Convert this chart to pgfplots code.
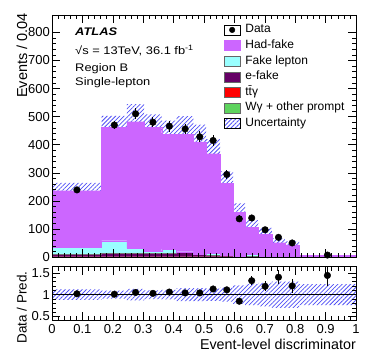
\documentclass[border=0pt]{standalone}
\usepackage{fontspec}
\setmainfont{Liberation Sans}
\usepackage{pgfplots}
\usepackage{pgfplotstable}
\pgfplotsset{compat=1.18}
\usepgfplotslibrary{fillbetween}
\usetikzlibrary{patterns.meta}

\definecolor{hadfake}{RGB}{204,102,255}
\definecolor{fakelep}{RGB}{153,255,255}
\definecolor{efake}{RGB}{102,0,102}
\definecolor{ttg}{RGB}{255,0,0}
\definecolor{wg}{RGB}{94,211,94}
\definecolor{hatch}{RGB}{80,80,245}

% stacked components (left bin edge, last row closes the last bin)
\pgfplotstableread{
x     g    r    e    c    h
0.000 0.5  0.5  10   23   202
0.163 0.5  0.5  14   43   403
0.246 0.5  0.5  13   18   450
0.303 0.5  0.5  13   6    442
0.361 0.5  0.5  12   16   409
0.410 0.5  0.5  15   3    417
0.465 0.5  0.5  8    2    399
0.507 0.5  0.5  7    5    355
0.553 0.5  0.5  5    2    255
0.596 0.5  0.5  2    1    154
0.635 0.5  0.5  3    5.5  96
0.679 1.5  0.5  1    0.5  78
0.723 0.5  0.5  1    1    48
0.766 0.5  0.5  0.5  0.5  41
0.813 0.5  0.5  0.3  0.2  3.5
1.000 0.5  0.5  0.3  0.2  3.5
}\stacktab

% uncertainty band
\pgfplotstableread{
x     lo     hi     rlo   rhi
0.000 207.7  264.3  0.88  1.12
0.163 419.5  502.5  0.91  1.09
0.246 419.3  544.7  0.87  1.13
0.303 415.8  508.2  0.90  1.10
0.361 389.8  486.2  0.89  1.11
0.410 370.6  501.4  0.85  1.15
0.465 348.5  471.5  0.85  1.15
0.507 316.5  419.5  0.86  1.14
0.553 220.9  305.1  0.84  1.16
0.596 124.8  191.2  0.79  1.21
0.635 80.6   131.4  0.76  1.24
0.679 59.9   104.1  0.73  1.27
0.723 35.7   66.3   0.70  1.30
0.766 30.1   55.9   0.70  1.30
0.813 3.8    6.2    0.76  1.24
1.000 3.8    6.2    0.76  1.24
}\bandtab

% data
\pgfplotstableread{
x     y    ey    r     er
0.082 239  7.6   1.02  0.033
0.205 470  15    1.01  0.032
0.275 510  19    1.05  0.039
0.332 480  18    1.03  0.039
0.386 466  20    1.06  0.045
0.438 456  18    1.04  0.042
0.486 428  20    1.04  0.049
0.530 415  19    1.13  0.052
0.575 294  16.5  1.11  0.062
0.616 136  12    0.85  0.072
0.657 139  11    1.32  0.107
0.701 97   9.4   1.19  0.115
0.745 70   8     1.40  0.163
0.790 50   6.5   1.20  0.157
0.906 7    1.2   1.44  0.25
}\datatab

\pgfplotsset{
  legbox/.style={legend image code/.code={\draw[##1] (0pt,-5pt) rectangle (16pt,5pt);}},
  rootaxis/.style={
    scale only axis, width=304pt,
    xmin=0, xmax=1,
    xtick={0,0.1,0.2,0.3,0.4,0.5,0.6,0.7,0.8,0.9,1},
    minor x tick num=4,
    tick align=inside, major tick length=8pt, minor tick length=4pt,
    tick style={black, line width=0.5pt},
    axis line style={line width=0.6pt},
    axis on top,
    /pgf/number format/assume math mode=true,
    tick label style={font=\fontsize{13}{15}\selectfont},
    yticklabel style={inner sep=1pt, xshift=-1pt},
  },
}

\begin{document}
\begin{tikzpicture}

\begin{axis}[rootaxis,
  at={(52pt,102pt)}, anchor=south west, height=242pt,
  ymin=0, ymax=862,
  ytick={0,100,200,300,400,500,600,700,800}, minor y tick num=4,
  xticklabels={},
  ylabel={Events / 0.04},
  ylabel style={font=\fontsize{14.5}{16}\selectfont, at={(axis description cs:-0.099,1.022)}, anchor=east},
  legend style={at={(axis description cs:0.565,0.964)}, anchor=north west, draw=none, fill=none,
    inner sep=0pt, row sep=3.6pt, column sep=5pt,
    font=\fontsize{12}{14}\selectfont,
    nodes={inner sep=0pt, text height=9pt, text depth=3pt}},
  legend cell align=left,
]
% stacked histograms
\addplot[stack plots=y, const plot, fill=wg, draw=black!60, line width=0.3pt, forget plot] table[x=x,y=g]{\stacktab} \closedcycle;
\addplot[stack plots=y, const plot, fill=ttg, draw=black!60, line width=0.3pt, forget plot] table[x=x,y=r]{\stacktab} \closedcycle;
\addplot[stack plots=y, const plot, fill=efake, draw=efake!70!black, line width=0.3pt, forget plot] table[x=x,y=e]{\stacktab} \closedcycle;
\addplot[stack plots=y, const plot, fill=fakelep, draw=black!55, line width=0.3pt, forget plot] table[x=x,y=c]{\stacktab} \closedcycle;
\addplot[stack plots=y, const plot, fill=hadfake, draw=hadfake, line width=0.3pt, forget plot] table[x=x,y=h]{\stacktab} \closedcycle;
% uncertainty band
\addplot[const plot, draw=none, name path=bhi, forget plot] table[x=x,y=hi]{\bandtab};
\addplot[const plot, draw=none, name path=blo, forget plot] table[x=x,y=lo]{\bandtab};
\addplot[pattern={Lines[angle=45,distance=3pt,line width=0.75pt]}, pattern color=hatch, draw=none, forget plot] fill between[of=bhi and blo];
% data
\addplot[only marks, mark=*, mark size=3.3pt, black, forget plot,
  error bars/.cd, y dir=both, y explicit, error bar style={line width=1pt, black}, error mark=none]
  table[x=x,y=y,y error=ey]{\datatab};

% legend
\addlegendimage{legend image code/.code={\fill[black] (8pt,0pt) circle (2.8pt); \path (0pt,-5pt) rectangle (16pt,5pt);}}
\addlegendentry{Data}
\addlegendimage{legbox, fill=hadfake, draw=hadfake}
\addlegendentry{Had-fake}
\addlegendimage{legbox, fill=fakelep, draw=black!60}
\addlegendentry{Fake lepton}
\addlegendimage{legbox, fill=efake, draw=black!60}
\addlegendentry{e-fake}
\addlegendimage{legbox, fill=ttg, draw=black!60}
\addlegendentry{t\={t}γ}
\addlegendimage{legbox, fill=wg, draw=black!60}
\addlegendentry{Wγ + other prompt}
\addlegendimage{legbox, draw=none, pattern={Lines[angle=45,distance=3pt,line width=0.75pt]}, pattern color=hatch}
\addlegendentry{Uncertainty}

\node[anchor=base west, inner sep=0pt, xscale=1.17, font=\fontsize{11}{13}\selectfont\bfseries\itshape] at (axis description cs:0.0757,0.915) {ATLAS};
\node[anchor=base west, inner sep=0pt, xscale=1.17, font=\fontsize{11}{13}\selectfont] at (axis description cs:0.0757,0.835) {√s = 13TeV, 36.1 fb\textsuperscript{-1}};
\node[anchor=base west, inner sep=0pt, xscale=1.17, font=\fontsize{11}{13}\selectfont] at (axis description cs:0.0757,0.765) {Region B};
\node[anchor=base west, inner sep=0pt, xscale=1.17, font=\fontsize{11}{13}\selectfont] at (axis description cs:0.0757,0.710) {Single-lepton};
\end{axis}

\begin{axis}[rootaxis,
  at={(52pt,39pt)}, anchor=south west, height=53.3pt,
  ymin=0.42, ymax=1.64,
  ytick={0.5,1,1.5}, minor y tick num=4,
  xlabel={Event-level discriminator},
  xlabel style={font=\fontsize{14.3}{16}\selectfont, at={(axis description cs:1.0,-0.36)}, anchor=north east, inner sep=0pt},
  ylabel={Data / Pred.},
  ylabel style={font=\fontsize{13.5}{15}\selectfont, at={(axis description cs:-0.099,0.98)}, anchor=east},
  xticklabel style={yshift=-1pt},
]
\addplot[const plot, draw=none, name path=rhi, forget plot] table[x=x,y=rhi]{\bandtab};
\addplot[const plot, draw=none, name path=rlo, forget plot] table[x=x,y=rlo]{\bandtab};
\addplot[pattern={Lines[angle=45,distance=3pt,line width=0.75pt]}, pattern color=hatch, draw=none, forget plot] fill between[of=rhi and rlo];
\addplot[black, line width=0.5pt, forget plot] coordinates {(0,1) (1,1)};
\addplot[only marks, mark=*, mark size=3.3pt, black, forget plot,
  error bars/.cd, y dir=both, y explicit, error bar style={line width=1pt, black}, error mark=none]
  table[x=x,y=r,y error=er]{\datatab};
\end{axis}

\pgfresetboundingbox
\useasboundingbox (0,0) rectangle (374pt,359pt);
\end{tikzpicture}
\end{document}
